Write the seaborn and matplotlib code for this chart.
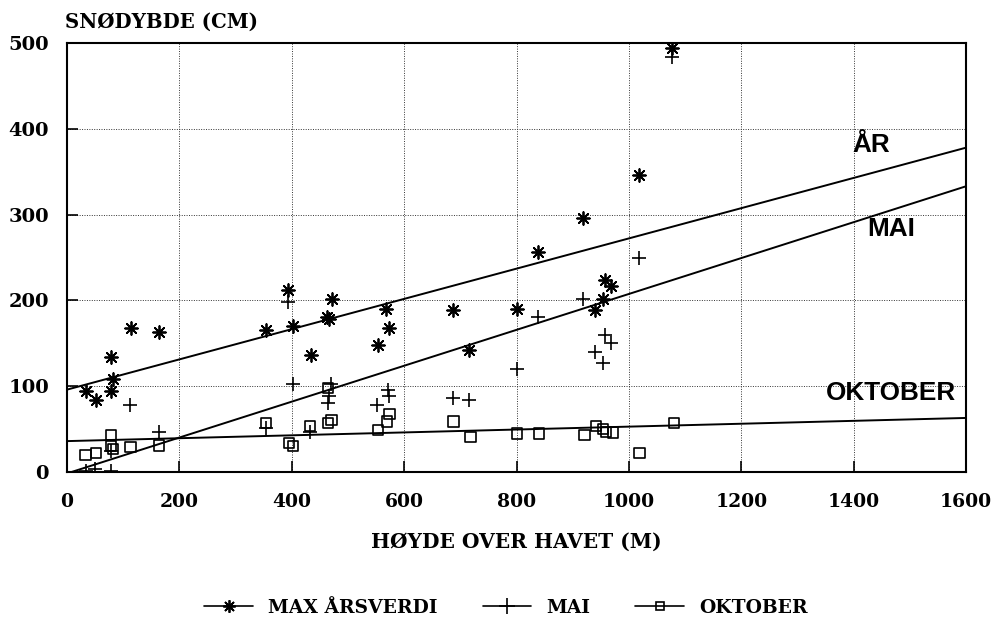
import numpy as np
import pandas as pd
import matplotlib
matplotlib.use("Agg")
import matplotlib.pyplot as plt
from matplotlib.lines import Line2D
import seaborn as sns

# ---- data ----
max_x = [33, 52, 78, 82, 78, 114, 164, 354, 393, 402, 435, 462, 466, 471,
         553, 568, 573, 687, 716, 800, 838, 918, 939, 954, 957, 969, 1018, 1077]
max_y = [94, 84, 134, 108, 94, 168, 163, 166, 212, 170, 136, 181, 178, 202,
         148, 190, 168, 189, 142, 190, 256, 296, 189, 202, 224, 217, 346, 494]

mai_x = [34, 49, 78, 78, 112, 163, 354, 393, 402, 432, 464, 466, 470,
         552, 571, 573, 687, 716, 800, 838, 918, 939, 954, 957, 969, 1018, 1077]
mai_y = [1, 4, 1, 24, 78, 47, 51, 198, 103, 47, 81, 88, 103,
         78, 95, 89, 86, 84, 120, 181, 202, 140, 127, 160, 150, 250, 484]

okt_x = [33, 52, 78, 78, 82, 113, 164, 354, 395, 402, 432, 464, 464, 471,
         553, 569, 574, 688, 718, 801, 840, 921, 942, 954, 959, 972, 1019, 1080]
okt_y = [20, 22, 43, 30, 27, 29, 31, 57, 34, 30, 54, 98, 57, 61,
         49, 59, 68, 59, 41, 45, 45, 43, 54, 50, 47, 46, 22, 57]

# regression lines (end points)
line_x = [0, 1600]
ar_line_y = [96, 378]
mai_line_x = [8, 1600]
mai_line_y = [0, 333]
okt_line_y = [36, 63]

line_labels = ["ÅR", "MAI", "OKTOBER"]
label_x = [1398, 1425, 1351]
label_y = [381, 283, 92]

x_ticks = [0, 200, 400, 600, 800, 1000, 1200, 1400, 1600]
y_ticks = [0, 100, 200, 300, 400, 500]
legend_names = ["MAX ÅRSVERDI", "MAI", "OKTOBER"]

# ---- styling ----
sns.set_style("ticks")
plt.rcParams["font.family"] = ["DejaVu Serif"]
plt.rcParams["text.color"] = "black"
plt.rcParams["axes.labelcolor"] = "black"
plt.rcParams["xtick.color"] = "black"
plt.rcParams["ytick.color"] = "black"

fig = plt.figure(figsize=(9.99, 6.19), dpi=100)
ax = fig.add_axes([67 / 999, 1 - 472 / 619, (966 - 67) / 999, (472 - 43) / 619])

star = (8, 2, 0)
df_max = pd.DataFrame({"x": max_x, "y": max_y})
df_mai = pd.DataFrame({"x": mai_x, "y": mai_y})
df_okt = pd.DataFrame({"x": okt_x, "y": okt_y})

sns.lineplot(x=line_x, y=ar_line_y, ax=ax, color="black", lw=1.4)
sns.lineplot(x=mai_line_x, y=mai_line_y, ax=ax, color="black", lw=1.4)
sns.lineplot(x=line_x, y=okt_line_y, ax=ax, color="black", lw=1.4)

sns.scatterplot(data=df_max, x="x", y="y", ax=ax, marker=star, s=85,
                color="black", linewidth=1.3, legend=False)
sns.scatterplot(data=df_mai, x="x", y="y", ax=ax, marker="+", s=110,
                color="black", linewidth=1.2, legend=False)
sns.scatterplot(data=df_okt, x="x", y="y", ax=ax, marker="s", s=55,
                color="black", facecolor="none", edgecolor="black",
                linewidth=1.2, legend=False, zorder=3)

ax.set_xlim(0, 1600)
ax.set_ylim(0, 500)
ax.set_xticks(x_ticks)
ax.set_yticks(y_ticks)
ax.tick_params(axis="both", direction="in", length=8, width=1.2,
               labelsize=14, colors="black")
ax.tick_params(axis="x", pad=15, labelsize=13.5)
ax.tick_params(axis="y", pad=13)
for lab in ax.get_xticklabels() + ax.get_yticklabels():
    lab.set_fontweight("bold")
ax.grid(True, linestyle=(0, (1, 1.5)), color="#333333", linewidth=0.7)
for sp in ax.spines.values():
    sp.set_visible(True)
    sp.set_color("black")
    sp.set_linewidth(1.5)

ax.set_xlabel("HØYDE OVER HAVET (M)", fontsize=14.5, fontweight="bold",
              labelpad=15, color="black")
ax.set_ylabel("")
fig.text(65 / 999, 1 - 22 / 619, "SNØDYBDE (CM)", fontsize=14.2,
         fontweight="bold", ha="left", va="center", color="black")

for t, lx, ly in zip(line_labels, label_x, label_y):
    ax.text(lx, ly, t, fontsize=18.8, fontweight="bold", ha="left", va="center",
            family="Liberation Sans", color="black")

handles = [
    Line2D([], [], color="black", lw=1.2, marker=star, markersize=9, mew=1.3),
    Line2D([], [], color="black", lw=1.2, marker="+", markersize=11, mew=1.2),
    Line2D([], [], color="black", lw=1.2, marker="s", markersize=6,
           mfc="none", mec="black", mew=1.2),
]
leg = fig.legend(handles, legend_names, loc="center", ncol=3,
                 bbox_to_anchor=(506 / 999, 1 - 608 / 619), frameon=False,
                 prop={"size": 13.5, "weight": "bold"}, handlelength=2.6,
                 columnspacing=2.4, handletextpad=0.8)
for t in leg.get_texts():
    t.set_color("black")

fig.savefig("out.png", dpi=100)
